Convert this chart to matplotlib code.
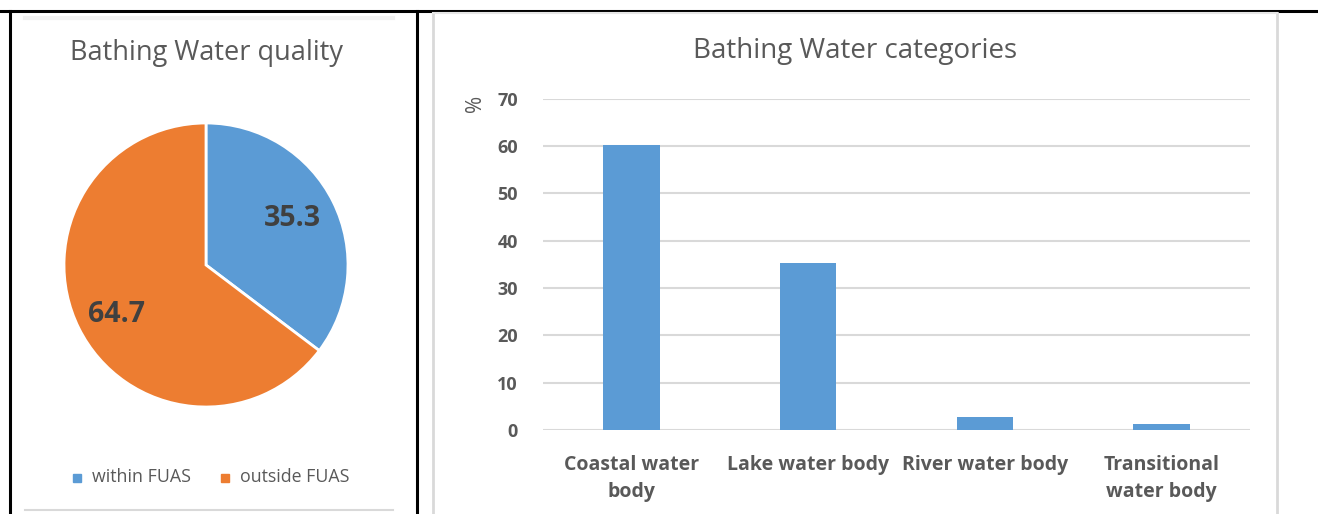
import matplotlib.pyplot as plt
from matplotlib.lines import Line2D
from matplotlib.patches import Rectangle

plt.rcParams['font.family'] = ['Open Sans', 'DejaVu Sans']

# data
pie_labels = ['within FUAS', 'outside FUAS']
pie_values = [35.3, 64.7]
categories = ['Coastal water\nbody', 'Lake water body', 'River water body', 'Transitional\nwater body']
bar_values = [60.2, 35.3, 2.8, 1.3]

blue = '#5B9BD5'
orange = '#ED7D31'
txt = '#595959'

W, H = 1318, 514
fig = plt.figure(figsize=(W / 100, H / 100), dpi=100)


def px(x0, y0, x1, y1):
    # pixel box (top-left origin) -> figure fraction rect
    return [x0 / W, 1 - y1 / H, (x1 - x0) / W, (y1 - y0) / H]


def fx(x):
    return x / W


def fy(y):
    return 1 - y / H


# table borders
for xs, ys, c, lw in [
    ([0, W], [11, 11], 'black', 2.2),
    ([10, 10], [11, H], 'black', 2.2),
    ([417, 417], [11, H], 'black', 2.2),
    ([433, 433], [13, H], '#d9d9d9', 2),
    ([1277, 1277], [13, H], '#d9d9d9', 2),
    ([433, 1277], [13, 13], '#e6e6e6', 1.5),
    ([25, 393], [18, 18], '#f0f0f0', 3),
    ([25, 393], [510, 510], '#d9d9d9', 1.5),
]:
    fig.add_artist(Line2D([fx(x) for x in xs], [fy(y) for y in ys], color=c, lw=lw))

# pie
ax1 = fig.add_axes(px(64, 123, 348, 407))
wedges, _ = ax1.pie(pie_values, colors=[blue, orange], startangle=90, counterclock=False,
                    radius=1, wedgeprops=dict(edgecolor='white', linewidth=2))
ax1.set_xlim(-1.0, 1.0)
ax1.set_ylim(-1.0, 1.0)
ax1.set_aspect('equal')
ax1.axis('off')
ax1.text(0.606, 0.324, f'{pie_values[0]}', ha='center', va='center', fontsize=20.5,
         fontweight='bold', color='#404040')
ax1.text(-0.627, -0.352, f'{pie_values[1]}', ha='center', va='center', fontsize=20.5,
         fontweight='bold', color='#404040')

fig.text(fx(206), fy(53), 'Bathing Water quality', ha='center', va='center',
         fontsize=19.5, color=txt)

# legend
for (x, lab, c) in [(73, pie_labels[0], blue), (221, pie_labels[1], orange)]:
    fig.add_artist(Rectangle((fx(x), fy(482)), 8 / W, 8 / H, color=c))
    fig.text(fx(x + 19), fy(477), lab, ha='left', va='center', fontsize=12.8, color=txt)

# bars
ax2 = fig.add_axes(px(543, 98.5, 1250, 430))
ax2.bar(range(len(categories)), bar_values, width=0.32, color=blue, zorder=3)
ax2.set_xlim(-0.5, len(categories) - 0.5)
ax2.set_ylim(0, 70)
ax2.set_yticks(range(0, 71, 10))
ax2.grid(axis='y', color='#d9d9d9', lw=1.5, zorder=0)
ax2.set_xticks(range(len(categories)))
ax2.set_xticklabels(categories, fontsize=14, fontweight='bold', color=txt, linespacing=1.45)
for lab in ax2.get_yticklabels():
    lab.set_fontsize(13)
    lab.set_fontweight('bold')
    lab.set_color(txt)
ax2.tick_params(length=0)
ax2.tick_params(axis='x', pad=18)
ax2.tick_params(axis='y', pad=18)
for s in ax2.spines.values():
    s.set_visible(False)

fig.text(fx(475), fy(103), '%', rotation=90, ha='center', va='center', fontsize=15, color=txt)
fig.text(fx(855), fy(51), 'Bathing Water categories', ha='center', va='center',
         fontsize=20, color=txt)

fig.savefig('out.png', dpi=100)
